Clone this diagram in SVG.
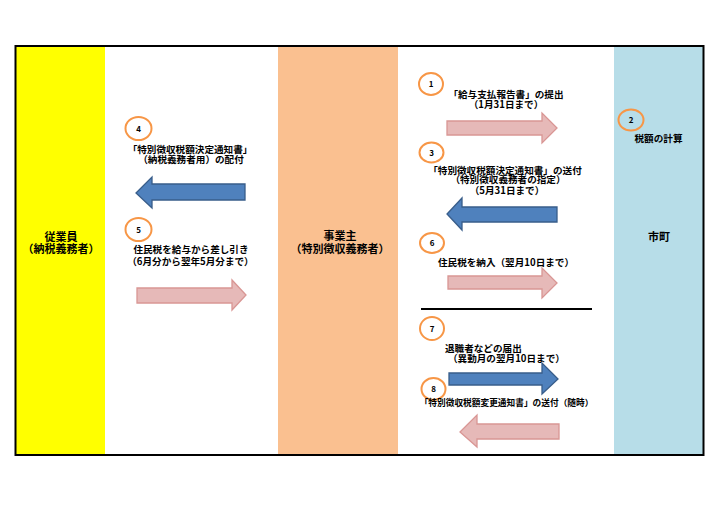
<svg xmlns="http://www.w3.org/2000/svg" width="719" height="508" viewBox="0 0 719 508">
<style>
text{font-family:"Noto Sans CJK JP","Noto Sans",sans-serif;font-weight:bold;fill:#000}
.lbl{font-size:11px;text-anchor:middle}
.t{font-size:9.6px;text-anchor:middle}
.ts{font-size:8.7px;text-anchor:middle}
.num{font-size:8px;text-anchor:middle}
.circ{fill:none;stroke:#F79646;stroke-width:2}
.blue{fill:#4F81BD;stroke:#385D8A;stroke-width:1.3}
.pink{fill:#E6B9B8;stroke:#D99694;stroke-width:1.3}
</style>
<rect x="0" y="0" width="719" height="508" fill="#fff"/>
<g id="employee">
<rect x="16" y="46" width="89" height="409" fill="#FFFF00"/>
<text class="lbl" x="61" y="240.5">従業員</text>
<text class="lbl" x="61" y="253">（納税義務者）</text>
</g>
<g id="employer">
<rect x="278" y="46" width="120" height="409" fill="#FAC090"/>
<text class="lbl" x="340" y="240">事業主</text>
<text class="lbl" x="340" y="253">（特別徴収義務者）</text>
</g>
<g id="city">
<rect x="614" y="46" width="89" height="409" fill="#B7DDE8"/>
<text class="lbl" x="659" y="240.5">市町</text>
</g>
<rect x="15.5" y="46" width="688" height="409" fill="none" stroke="#000" stroke-width="2"/>
<g id="step1">
<ellipse class="circ" cx="431" cy="84" rx="12" ry="11"/>
<text class="num" x="431" y="87">1</text>
<text class="t" x="506" y="97.5">「給与支払報告書」の提出</text>
<text class="t" x="506" y="107.5">（1月31日まで）</text>
</g>
<g id="step2">
<ellipse class="circ" cx="631" cy="120" rx="12.5" ry="10.5"/>
<text class="num" x="631" y="123">2</text>
<text class="t" x="658.5" y="141.5">税額の計算</text>
</g>
<g id="step3">
<ellipse class="circ" cx="431.5" cy="152.5" rx="12" ry="10"/>
<text class="num" x="431.5" y="155.5">3</text>
<text class="t" x="505" y="173.5">「特別徴収税額決定通知書」の送付</text>
<text class="t" x="508" y="183">（特別徴収義務者の指定）</text>
<text class="t" x="507" y="194">（5月31日まで）</text>
</g>
<g id="step4">
<ellipse class="circ" cx="138.5" cy="128.5" rx="13" ry="11.5"/>
<text class="num" x="138.5" y="131.5">4</text>
<text class="t" x="190" y="152.5">「特別徴収税額決定通知書」</text>
<text class="t" x="191" y="162.5">（納税義務者用）の配付</text>
</g>
<g id="step5">
<ellipse class="circ" cx="138.5" cy="229.5" rx="13" ry="11.5"/>
<text class="num" x="138.5" y="232.5">5</text>
<text class="t" x="191" y="253">住民税を給与から差し引き</text>
<text class="t" x="190.5" y="264.5">（6月分から翌年5月分まで）</text>
</g>
<g id="step6">
<ellipse class="circ" cx="432" cy="243" rx="12" ry="10"/>
<text class="num" x="432" y="246">6</text>
<text class="t" x="506" y="266">住民税を納入（翌月10日まで）</text>
</g>
<g id="step7">
<ellipse class="circ" cx="432" cy="328.5" rx="12" ry="11.5"/>
<text class="num" x="432" y="331.5">7</text>
<text class="t" x="445" y="351.5" style="text-anchor:start">退職者などの届出</text>
<text class="t" x="448" y="361.5" style="text-anchor:start">（異動月の翌月10日まで）</text>
</g>
<g id="step8">
<ellipse class="circ" cx="433.5" cy="389" rx="12" ry="11"/>
<text class="num" x="433.5" y="392">8</text>
<text class="ts" x="506.5" y="406">「特別徴収税額変更通知書」の送付（随時）</text>
</g>
<g id="connectors">
<polygon class="pink" points="447,121 542,121 542,113 557,128 542,143 542,135 447,135"/>
<polygon class="blue" points="557,207 462,207 462,198 447,214 462,230 462,222 557,222"/>
<polygon class="blue" points="245,184 152,184 152,177 136,193 152,208 152,200 245,200"/>
<polygon class="pink" points="137,288 232,288 232,280 246,295 232,310 232,303 137,303"/>
<polygon class="pink" points="448,276 542,276 542,268 557,283 542,298 542,289 448,289"/>
<polygon class="blue" points="449,373 542,373 542,363 558,379 542,394 542,385 449,385"/>
<polygon class="pink" points="559,424 477,424 477,415 460,432 477,447 477,439 559,439"/>
<line x1="421" y1="309" x2="592" y2="309" stroke="#000" stroke-width="2"/>
</g>
</svg>
